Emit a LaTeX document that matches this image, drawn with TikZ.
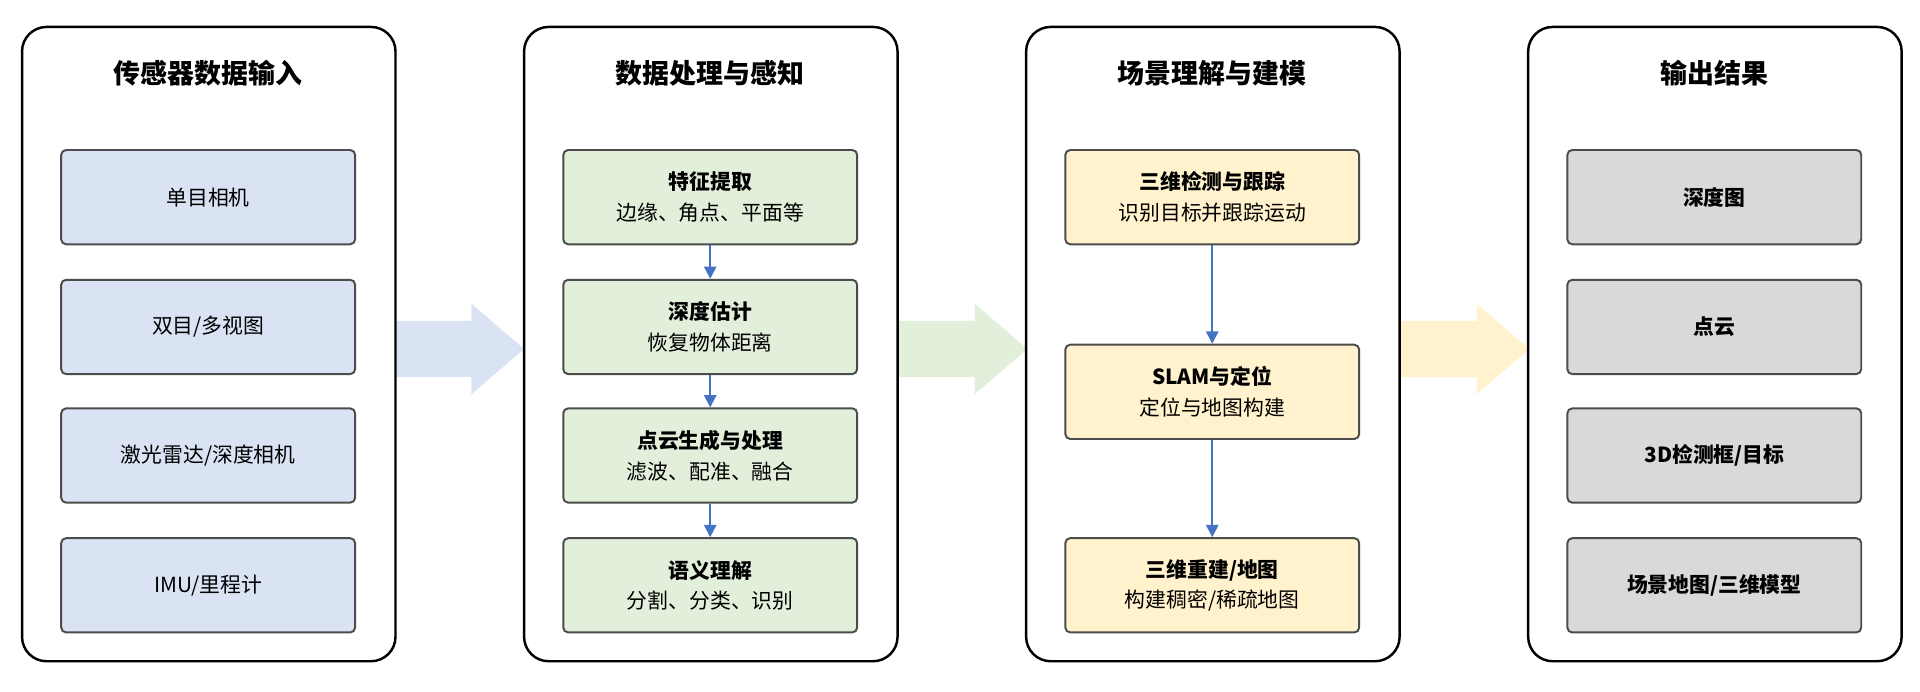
\documentclass[tikz,border=0pt]{standalone}
\usepackage{fontspec}
\setmainfont{Noto Sans CJK SC}
\usetikzlibrary{arrows.meta}
\definecolor{bb}{HTML}{DAE3F3}
\definecolor{gg}{HTML}{E2EFDA}
\definecolor{yy}{HTML}{FFF2CC}
\definecolor{dg}{HTML}{D9D9D9}
\definecolor{ab}{HTML}{4472C4}
\begin{document}
\begin{tikzpicture}[x=1pt,y=-1pt,
 panel/.style={draw=black,line width=2pt,rounded corners=20pt},
 box/.style={draw=black!70,line width=1.6pt,rounded corners=4pt,minimum width=240pt,minimum height=77pt,align=center,font=\fontsize{17}{25}\selectfont},
 ttl/.style={font=\fontsize{22}{26}\selectfont\bfseries},
 sa/.style={draw=ab,line width=1.5pt,-{Triangle[length=10pt,width=10pt]}}]
\useasboundingbox (0,0) rectangle (1568,565);
\foreach \x/\c in {322/bb,733/gg,1143/yy}{
 \fill[\c] (\x,262) -- (\x+63,262) -- (\x+63,248) -- (\x+106,285) -- (\x+63,322) -- (\x+63,308) -- (\x,308) -- cycle;}
\foreach \x in {18,428,838,1248}{\draw[panel] (\x,22) rectangle (\x+305,540);}
\node[ttl] (t1) at (170,60) {传感器数据输入};
\node[ttl] (t2) at (580,60) {数据处理与感知};
\node[ttl] (t3) at (990,60) {场景理解与建模};
\node[ttl] (t4) at (1400,60) {输出结果};
\node[box,fill=bb] (a1) at (170,161) {单目相机};
\node[box,fill=bb] (a2) at (170,267) {双目/多视图};
\node[box,fill=bb] (a3) at (170,372) {激光雷达/深度相机};
\node[box,fill=bb] (a4) at (170,478) {IMU/里程计};
\node[box,fill=gg] (b1) at (580,161) {\textbf{特征提取}\\边缘、角点、平面等};
\node[box,fill=gg] (b2) at (580,267) {\textbf{深度估计}\\恢复物体距离};
\node[box,fill=gg] (b3) at (580,372) {\textbf{点云生成与处理}\\滤波、配准、融合};
\node[box,fill=gg] (b4) at (580,478) {\textbf{语义理解}\\分割、分类、识别};
\node[box,fill=yy] (c1) at (990,161) {\textbf{三维检测与跟踪}\\识别目标并跟踪运动};
\node[box,fill=yy] (c2) at (990,320) {\textbf{SLAM与定位}\\定位与地图构建};
\node[box,fill=yy] (c3) at (990,478) {\textbf{三维重建/地图}\\构建稠密/稀疏地图};
\node[box,fill=dg,font=\fontsize{17}{25}\selectfont\bfseries] (d1) at (1400,161) {深度图};
\node[box,fill=dg,font=\fontsize{17}{25}\selectfont\bfseries] (d2) at (1400,267) {点云};
\node[box,fill=dg,font=\fontsize{17}{25}\selectfont\bfseries] (d3) at (1400,372) {3D检测框/目标};
\node[box,fill=dg,font=\fontsize{17}{25}\selectfont\bfseries] (d4) at (1400,478) {场景地图/三维模型};
\draw[sa] (b1) -- (b2);
\draw[sa] (b2) -- (b3);
\draw[sa] (b3) -- (b4);
\draw[sa] (c1) -- (c2);
\draw[sa] (c2) -- (c3);
\end{tikzpicture}
\end{document}
